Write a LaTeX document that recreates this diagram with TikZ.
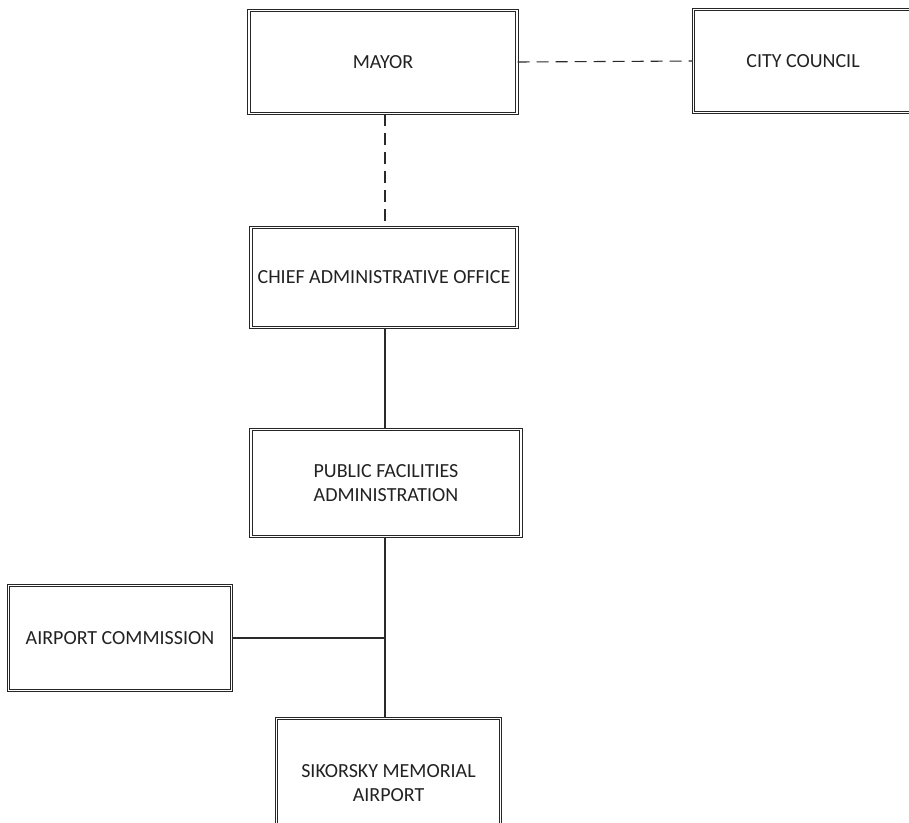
\documentclass[tikz,border=0pt]{standalone}
\usepackage{fontspec}
\setmainfont{Carlito}
\usepackage{xcolor}
\usepackage{tikz}
\usetikzlibrary{positioning, calc}
\definecolor{boxdraw}{HTML}{262626}
\definecolor{boxtext}{HTML}{222222}
\definecolor{linkdraw}{HTML}{2A2A2A}
\tikzset{
  orgbox/.style={rectangle, draw=boxdraw, double=white, double distance=1.6pt, line width=1.1pt, align=center, text=boxtext, font=\fontsize{20}{24}\selectfont, inner sep=2pt},
  lnk/.style={line width=1.1pt, draw=linkdraw},
  lnkdash/.style={lnk, dash pattern=on 12pt off 7pt},
}

\begin{document}
\begin{tikzpicture}[x=1pt, y=1pt]
  \useasboundingbox (0,0) rectangle (909,-822);
  \clip (0,0) rectangle (909,-822);
  \node[orgbox, minimum width=268pt, minimum height=103pt] (mayor) at (383,-62) {MAYOR};
  \node[orgbox, minimum width=219pt, minimum height=103pt] (council) at (803,-61) {CITY COUNCIL};
  \node[orgbox, minimum width=266pt, minimum height=100pt] (cao) at (384,-277.5) {CHIEF ADMINISTRATIVE OFFICE};
  \node[orgbox, minimum width=270pt, minimum height=107pt] (pfa) at (386,-483) {PUBLIC FACILITIES\\ADMINISTRATION};
  \node[orgbox, minimum width=223pt, minimum height=105pt] (comm) at (120,-638) {AIRPORT COMMISSION};
  \node[orgbox, minimum width=224pt, minimum height=129pt] (airport) at (388.5,-783) {SIKORSKY MEMORIAL\\AIRPORT};
  \coordinate (spine) at ([xshift=2pt]mayor.south);
  \coordinate (junc) at (spine |- comm.east);
  % links
  \draw[lnkdash] (mayor.east) -- (council.west);
  \draw[lnkdash] (spine) -- (spine |- cao.north);
  \draw[lnk] (spine |- cao.south) -- (spine |- pfa.north);
  \draw[lnk] (spine |- pfa.south) -- (spine |- airport.north);
  \draw[lnk] (comm.east) -- (junc);
\end{tikzpicture}
\end{document}
